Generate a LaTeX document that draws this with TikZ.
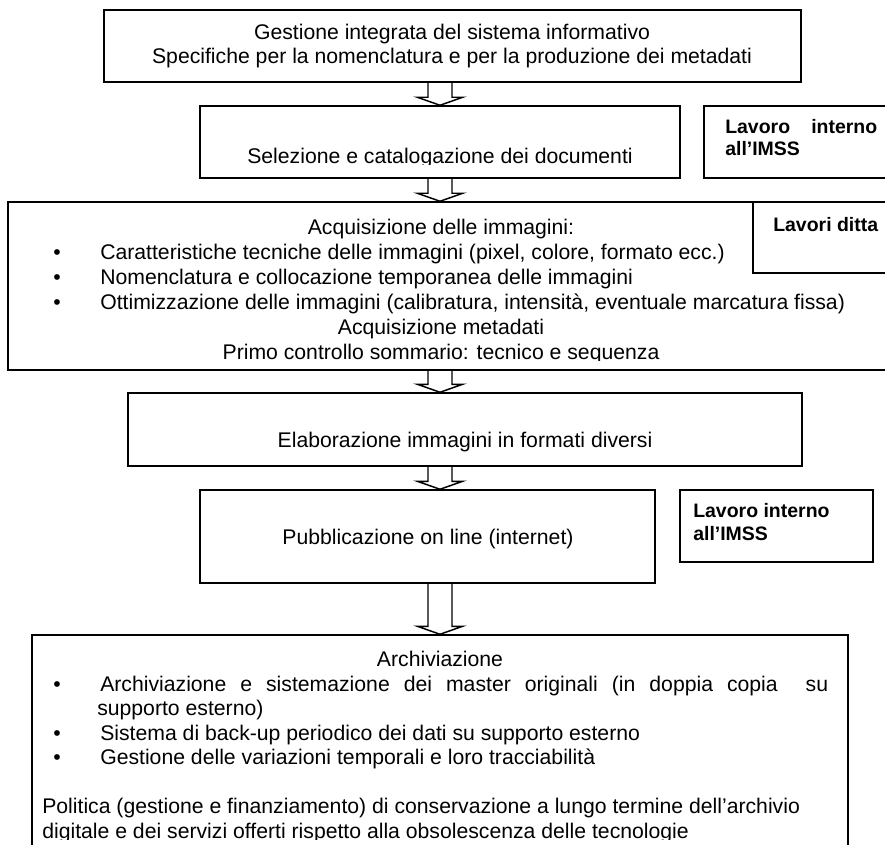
\documentclass[tikz,border=0pt]{standalone}
\usepackage{fontspec}
\setmainfont{Liberation Sans}
\usetikzlibrary{fit,calc}

\tikzset{
  box/.style={draw, line width=1.1pt, inner sep=0pt},
  txt/.style={inner sep=0pt, anchor=base, font=\fontsize{15.9}{18}\selectfont},
  lft/.style={txt, anchor=base west},
  tag/.style={inner sep=0pt, anchor=base west, font=\fontsize{14.6}{17}\selectfont\bfseries},
  flow/.style={line width=1.1pt},
}

% hollow block arrow from the bottom of #1 to the top of #2
\newcommand{\hollowarrow}[2]{%
  \draw[flow] let \p1=(#1.south -| ax), \p2=(#2.north -| ax) in
    (\x1-9pt,\y1) -- (\x1-9pt,\y2+6pt) -- (\x1-17pt,\y2+6pt) -- (\p2)
    -- (\x1+17pt,\y2+6pt) -- (\x1+9pt,\y2+6pt) -- (\x1+9pt,\y1);}

\begin{document}
\begin{tikzpicture}[x=0.75pt, y=-0.75pt]
  \clip (0,0) rectangle (885,845);
  \coordinate (ax) at (440,0);

  % main flow boxes
  \node[box, fit={(104,10) (801,82)}] (gest) {};
  \node[box, fit={(200,106) (680,178)}] (sel) {};
  \node[box, fit={(8,202) (900,370)}] (acq) {};
  \node[box, fit={(128,393) (802,466)}] (elab) {};
  \node[box, fit={(200,490) (655,583)}] (pub) {};
  \node[box, fit={(32,635) (848,900)}] (arch) {};

  % side notes
  \node[box, fit={(704,106) (900,178)}] (intA) {};
  \node[box, fit={(753,202) (900,273)}] (ditta) {};
  \node[box, fit={(680,490) (873,562)}] (intB) {};

  % texts
  \node[txt] (gestA) at (452,40) {Gestione integrata del sistema informativo};
  \node[txt] (gestB) at (452,64) {Specifiche per la nomenclatura e per la produzione dei metadati};

  \begin{scope}
    \clip (200,106) rectangle (680,165);
    \node[txt] (selT) at (440,164) {Selezione e catalogazione dei documenti};
  \end{scope}

  \node[tag] (intAT) at (725,134) {\makebox[114pt][s]{Lavoro interno}};
  \node[tag] (intAU) at (725,156) {all’IMSS};

  \node[txt] (acqT) at (441,234) {Acquisizione delle immagini:};
  \node[txt] (acqB1) at (57,259) {•};
  \node[lft] (acqL1) at (100,259) {Caratteristiche tecniche delle immagini (pixel, colore, formato ecc.)};
  \node[txt] (acqB2) at (57,284) {•};
  \node[lft] (acqL2) at (100,284) {Nomenclatura e collocazione temporanea delle immagini};
  \node[txt] (acqB3) at (57,309) {•};
  \node[lft] (acqL3) at (100,309) {Ottimizzazione delle immagini (calibratura, intensità, eventuale marcatura fissa)};
  \node[txt] (acqM) at (441,334) {Acquisizione metadati};
  \begin{scope}
    \clip (8,202) rectangle (885,360);
    \node[txt] (acqP) at (441,359) {Primo controllo sommario: tecnico e sequenza};
  \end{scope}

  \node[tag] (dittaT) at (773,231) {Lavori ditta};

  \node[txt] (elabT) at (465,447) {Elaborazione immagini in formati diversi};
  \node[txt] (pubT) at (428,544) {Pubblicazione on line (internet)};

  \node[tag] (intBT) at (693,517) {Lavoro interno};
  \node[tag] (intBU) at (693,540) {all’IMSS};

  \node[txt] (archT) at (440,666) {Archiviazione};
  \node[txt] (archB1) at (57,691) {•};
  \node[lft] (archL1) at (100,691) {\makebox[546pt][s]{Archiviazione e sistemazione dei master originali (in doppia copia\ \ su}};
  \node[lft] (archL1b) at (97,715) {supporto esterno)};
  \node[txt] (archB2) at (57,740) {•};
  \node[lft] (archL2) at (100,740) {Sistema di back-up periodico dei dati su supporto esterno};
  \node[txt] (archB3) at (57,764) {•};
  \node[lft] (archL3) at (100,764) {Gestione delle variazioni temporali e loro tracciabilità};
  \node[lft] (polA) at (42,813) {Politica (gestione e finanziamento) di conservazione a lungo termine dell’archivio};
  \begin{scope}
    \clip (32,635) rectangle (848,839);
    \node[lft] (polB) at (42,838) {digitale e dei servizi offerti rispetto alla obsolescenza delle tecnologie};
  \end{scope}

  % arrows between steps
  \hollowarrow{gest}{sel}
  \hollowarrow{sel}{acq}
  \hollowarrow{acq}{elab}
  \hollowarrow{elab}{pub}
  \hollowarrow{pub}{arch}
\end{tikzpicture}
\end{document}
